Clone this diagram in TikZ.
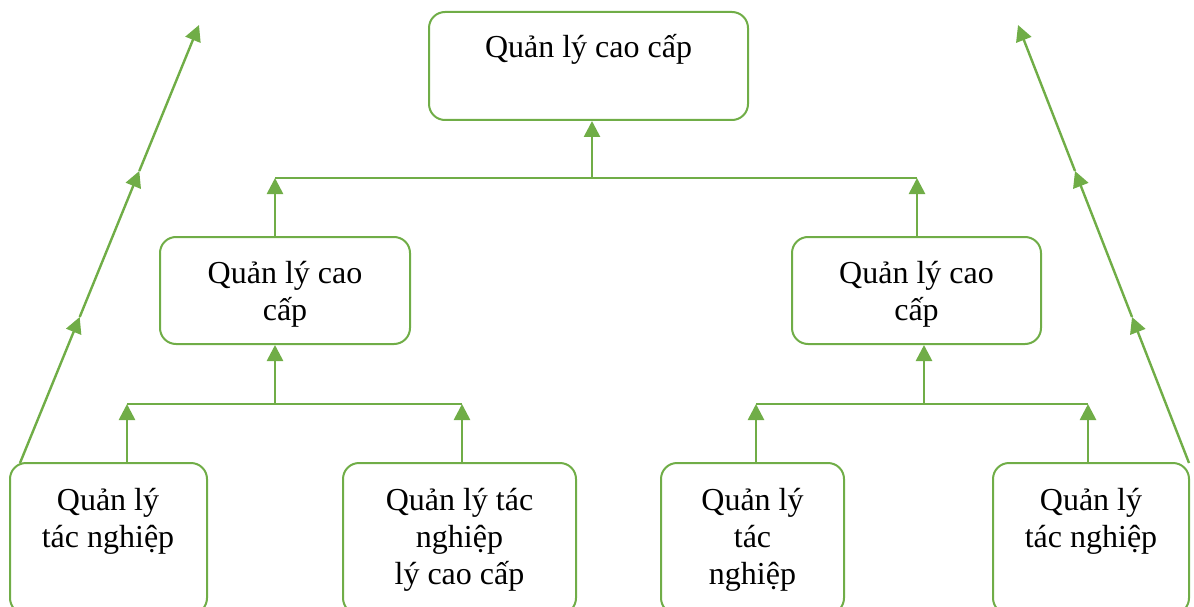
\documentclass[tikz,border=0pt]{standalone}
\usepackage{fontspec}
\setmainfont{Liberation Serif}
\usetikzlibrary{arrows.meta,fit}
\definecolor{grn}{HTML}{70AD47}
\tikzset{
  boxsty/.style={draw=grn, line width=1.5pt, rounded corners=12pt, inner sep=0pt},
  txt/.style={font=\fontsize{24}{27.6}\selectfont, align=center, anchor=base, inner sep=0pt},
  arr/.style={draw=grn, line width=2pt, -{Triangle[length=12pt,width=12pt]}},
  bar/.style={draw=grn, line width=1.4pt},
  slant/.style={draw=grn, line width=1.8pt, -{Triangle[length=12pt,width=12pt]}}
}
\begin{document}
\begin{tikzpicture}[x=0.75pt, y=-0.75pt]
\useasboundingbox (0,0) rectangle (1194,606);
\clip (0,0) rectangle (1194,606);

% boxes
\node[boxsty, fit={(429,12) (748,120)}] (T) {};
\node[boxsty, fit={(160,237) (410,344)}] (ml) {};
\node[boxsty, fit={(792,237) (1041,344)}] (mr) {};
\node[boxsty, fit={(10,463) (207,614)}] (b1) {};
\node[boxsty, fit={(343,463) (576,614)}] (b2) {};
\node[boxsty, fit={(661,463) (844,614)}] (b3) {};
\node[boxsty, fit={(993,463) (1189,614)}] (b4) {};

% labels (anchored at the baseline of the last line)
\node[txt] (tT) at (588.5,58) {Quản lý cao cấp};
\node[txt] (tml) at (285,320) {Quản lý cao\\cấp};
\node[txt] (tmr) at (916.5,320) {Quản lý cao\\cấp};
\node[txt] (tb1) at (108,547) {Quản lý\\tác nghiệp};
\node[txt] (tb2) at (459.5,584) {Quản lý tác\\nghiệp\\lý cao cấp};
\node[txt] (tb3) at (752.5,584) {Quản lý\\tác\\nghiệp};
\node[txt] (tb4) at (1091,547) {Quản lý\\tác nghiệp};

% junctions on the connecting bars
\coordinate (jT) at (592,178);
\coordinate (jTL) at (275,178);
\coordinate (jTR) at (917,178);
\coordinate (jL) at (275,404);
\coordinate (jL1) at (127,404);
\coordinate (jL2) at (462,404);
\coordinate (jR) at (924,404);
\coordinate (jR1) at (756,404);
\coordinate (jR2) at (1088,404);

% upper level
\draw[bar] (jTL) -- (jTR);
\draw[arr] (jT) -- (jT |- T.south);
\draw[arr] (jTL |- ml.north) -- (jTL);
\draw[arr] (jTR |- mr.north) -- (jTR);

% lower left
\draw[bar] (jL1) -- (jL2);
\draw[arr] (jL) -- (jL |- ml.south);
\draw[arr] (jL1 |- b1.north) -- (jL1);
\draw[arr] (jL2 |- b2.north) -- (jL2);

% lower right
\draw[bar] (jR1) -- (jR2);
\draw[arr] (jR) -- (jR |- mr.south);
\draw[arr] (jR1 |- b3.north) -- (jR1);
\draw[arr] (jR2 |- b4.north) -- (jR2);

% side arrows
\coordinate (sL0) at (20,463);
\coordinate (sL1) at (79.7,317);
\coordinate (sL2) at (139.3,171);
\coordinate (sL3) at (199,25);
\draw[slant] (sL0) -- (sL1);
\draw[slant] (sL1) -- (sL2);
\draw[slant] (sL2) -- (sL3);

\coordinate (sR0) at (1189,463);
\coordinate (sR1) at (1132,317);
\coordinate (sR2) at (1075,171);
\coordinate (sR3) at (1018,25);
\draw[slant] (sR0) -- (sR1);
\draw[slant] (sR1) -- (sR2);
\draw[slant] (sR2) -- (sR3);
\end{tikzpicture}
\end{document}
